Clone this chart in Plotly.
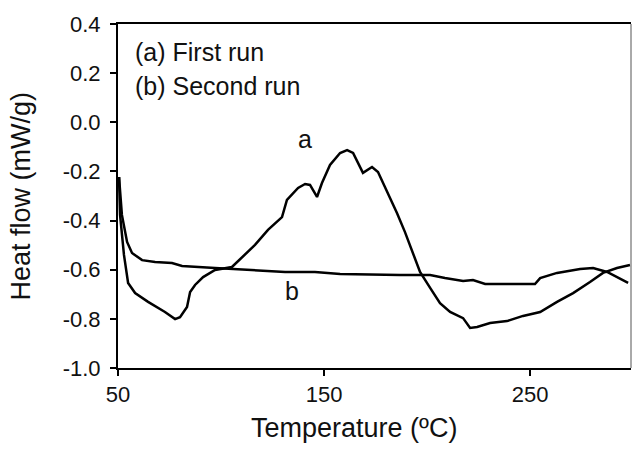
import plotly.graph_objects as go

# Curve (a) First run
temp_a = [50.5, 51.0, 52.9, 54.4, 54.9, 58.3, 64.6, 72.8, 77.7, 80.1, 83.5, 85.0, 87.4, 91.3,
          97.1, 105.3, 110.2, 116.5, 122.8, 129.6, 132.0, 137.4, 140.8, 143.2, 146.6, 149.0,
          152.9, 157.8, 161.2, 164.1, 168.9, 173.3, 176.2, 181.1, 185.4, 189.3, 193.2, 196.6,
          201.5, 206.3, 211.2, 217.5, 220.9, 224.3, 230.6, 238.8, 246.6, 254.9, 263.1, 270.9,
          279.1, 285.4, 292.2, 298.5]
heat_a = [-0.223, -0.377, -0.540, -0.622, -0.654, -0.695, -0.731, -0.772, -0.801, -0.793, -0.752,
          -0.691, -0.662, -0.630, -0.601, -0.589, -0.548, -0.499, -0.438, -0.386, -0.316, -0.267,
          -0.251, -0.255, -0.304, -0.247, -0.174, -0.125, -0.113, -0.125, -0.206, -0.182, -0.202,
          -0.288, -0.369, -0.447, -0.532, -0.609, -0.674, -0.736, -0.772, -0.797, -0.837, -0.833,
          -0.817, -0.809, -0.788, -0.772, -0.731, -0.695, -0.650, -0.613, -0.593, -0.581]

# Curve (b) Second run
temp_b = [50.5, 51.9, 54.4, 56.8, 61.7, 68.0, 76.2, 81.1, 97.1, 113.1, 131.1, 145.6, 157.8,
          186.9, 201.5, 208.7, 217.5, 222.3, 228.2, 252.4, 254.9, 263.1, 274.3, 280.6, 287.4, 297.6]
heat_b = [-0.223, -0.377, -0.487, -0.532, -0.561, -0.569, -0.573, -0.585, -0.593, -0.601, -0.609,
          -0.609, -0.617, -0.622, -0.622, -0.634, -0.646, -0.642, -0.658, -0.658, -0.634, -0.613,
          -0.597, -0.593, -0.609, -0.654]

x_ticks = [50, 150, 250]
y_ticks = [0.4, 0.2, 0.0, -0.2, -0.4, -0.6, -0.8, -1.0]
y_tick_text = ["0.4", "0.2", "0.0", "-0.2", "-0.4", "-0.6", "-0.8", "-1.0"]

FONT = "Liberation Sans, Arial, sans-serif"
INK = "#111111"

fig = go.Figure()
fig.add_trace(go.Scatter(x=temp_a, y=heat_a, mode="lines",
                         line=dict(color="black", width=2.5), showlegend=False))
fig.add_trace(go.Scatter(x=temp_b, y=heat_b, mode="lines",
                         line=dict(color="black", width=2.5), showlegend=False))

fig.update_layout(
    width=633, height=452,
    margin=dict(l=118, r=2, t=24, b=84),
    paper_bgcolor="white", plot_bgcolor="white",
    font=dict(family=FONT, color=INK, size=22),
    xaxis=dict(range=[50, 299], tickvals=x_ticks, ticks="outside", ticklen=6, tickwidth=2,
               tickcolor="black", showline=True, linecolor="black", linewidth=2, mirror=True,
               showgrid=False, zeroline=False, tickfont=dict(size=22), automargin=False),
    yaxis=dict(range=[-1.0, 0.4], tickvals=y_ticks, ticktext=y_tick_text, ticks="outside",
               ticklen=6, tickwidth=2, tickcolor="black", showline=True, linecolor="black",
               linewidth=2, showgrid=False, zeroline=False, tickfont=dict(size=22),
               automargin=False, ticklabelstandoff=5),
    shapes=[dict(type="line", xref="paper", yref="paper", x0=1, x1=1, y0=0, y1=1,
                 line=dict(color="#555555", width=1))],
    annotations=[
        dict(text="Temperature (ºC)", xref="paper", yref="paper", x=(354 - 118) / 513, y=-0.175,
             xanchor="center", yanchor="middle", showarrow=False, font=dict(size=27)),
        dict(text="Heat flow (mW/g)", xref="paper", yref="paper", x=-0.19, y=0.5, textangle=-90,
             xanchor="center", yanchor="middle", showarrow=False, font=dict(size=27)),
        dict(text="(a) First run", x=57.3, y=0.286, xanchor="left", yanchor="middle",
             showarrow=False, font=dict(size=25)),
        dict(text="(b) Second run", x=57.3, y=0.148, xanchor="left", yanchor="middle",
             showarrow=False, font=dict(size=25)),
        dict(text="a", x=140.8, y=-0.068, xanchor="center", yanchor="middle",
             showarrow=False, font=dict(size=25)),
        dict(text="b", x=134.5, y=-0.687, xanchor="center", yanchor="middle",
             showarrow=False, font=dict(size=25)),
    ],
)

fig.write_html("out.html", config={"displayModeBar": False},
               post_script="document.body.style.margin='0';")
